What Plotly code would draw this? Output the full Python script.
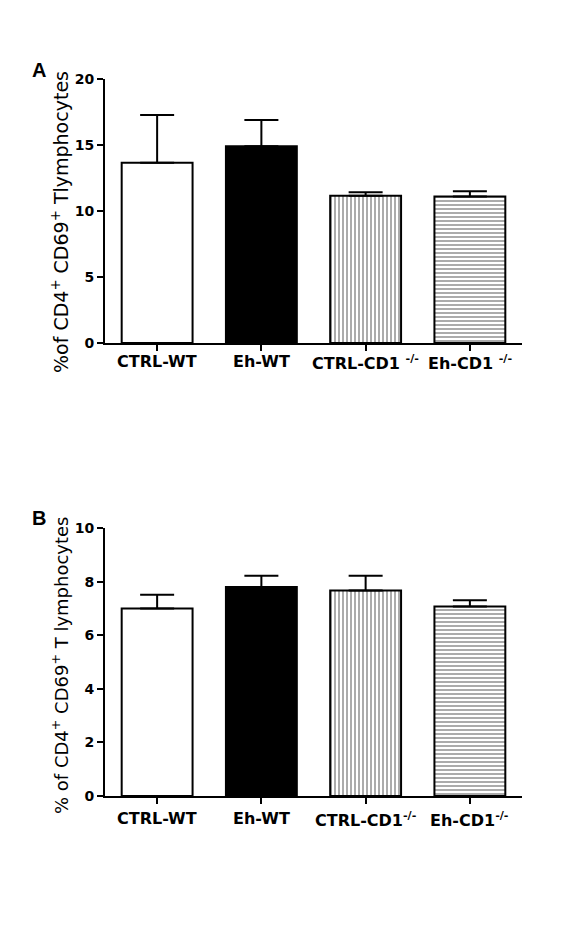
import plotly.graph_objects as go

# groups on the x axis
groups = ["CTRL-WT", "Eh-WT", "CTRL-CD1", "Eh-CD1"]
labels_a = ["CTRL-WT", "Eh-WT", "CTRL-CD1 <sup>-/-</sup>", "Eh-CD1 <sup>-/-</sup>"]
labels_b = ["CTRL-WT", "Eh-WT", "CTRL-CD1<sup>-/-</sup>", "Eh-CD1<sup>-/-</sup>"]

# panel A: % CD4+ CD69+ T lymphocytes (mean and upper SEM)
mean_a = [13.65, 14.9, 11.15, 11.1]
sem_a = [3.62, 2.0, 0.27, 0.4]

# panel B
mean_b = [7.0, 7.8, 7.67, 7.07]
sem_b = [0.51, 0.42, 0.55, 0.23]

ticks_a = [0, 5, 10, 15, 20]
ticks_b = [0, 2, 4, 6, 8, 10]

# look of each bar
fill_colors = ["white", "black", "white", "white"]
patterns = ["", "", "|", "-"]

W, H = 580, 927
OFF = 8  # page body margin shifts the figure by this much

TICK_FONT = dict(family="DejaVu Sans", size=14, color="black", weight="bold")
CAT_FONT = dict(family="DejaVu Sans", size=16, color="black", weight="bold")


def px_x(p):
    return (p - OFF) / W


def px_y(p):
    return 1 - (p - OFF) / H


def bar_trace(means, sems, xaxis, yaxis):
    return go.Bar(
        x=groups,
        y=means,
        width=0.68,
        xaxis=xaxis,
        yaxis=yaxis,
        marker=dict(
            color=fill_colors,
            line=dict(color="black", width=2),
            pattern=dict(shape=patterns, fgcolor="black", size=4, solidity=0.45),
        ),
        error_y=dict(
            type="data",
            symmetric=False,
            array=sems,
            arrayminus=[0] * len(sems),
            color="black",
            thickness=2,
            width=17,
        ),
        showlegend=False,
        hoverinfo="skip",
    )


fig = go.Figure()
fig.add_trace(bar_trace(mean_a, sem_a, "x", "y"))
fig.add_trace(bar_trace(mean_b, sem_b, "x2", "y2"))

common_x = dict(
    domain=[px_x(105), px_x(522)],
    range=[-0.5, 3.5],
    automargin=False,
    showline=True, linecolor="black", linewidth=2,
    ticks="outside", ticklen=6, tickwidth=2, tickcolor="black",
    showgrid=False, zeroline=False,
    showticklabels=False,
    tickmode="array", tickvals=groups,
)
common_y = dict(
    automargin=False,
    showline=True, linecolor="black", linewidth=2,
    ticks="outside", ticklen=6, tickwidth=2, tickcolor="black",
    showgrid=False, zeroline=False,
    tickfont=TICK_FONT,
    tickmode="array",
)

fig.update_layout(
    width=W,
    height=H,
    margin=dict(l=0, r=0, t=0, b=0),
    paper_bgcolor="white",
    plot_bgcolor="white",
    xaxis=dict(common_x, anchor="y"),
    yaxis=dict(common_y, anchor="x", domain=[px_y(343), px_y(79)],
               range=[0, 20], tickvals=ticks_a),
    xaxis2=dict(common_x, anchor="y2"),
    yaxis2=dict(common_y, anchor="x2", domain=[px_y(796), px_y(528)],
                range=[0, 10], tickvals=ticks_b),
)

# category labels under each panel
for g, lab in zip(groups, labels_a):
    fig.add_annotation(text=lab, x=g, y=0, xref="x", yref="y", yanchor="top",
                       yshift=-7, showarrow=False, font=CAT_FONT)
for g, lab in zip(groups, labels_b):
    fig.add_annotation(text=lab, x=g, y=0, xref="x2", yref="y2", yanchor="top",
                       yshift=-11, showarrow=False, font=CAT_FONT)

fig.add_annotation(text="%of CD4<sup>+</sup> CD69<sup>+</sup> Tlymphocytes",
                   x=px_x(60), y=px_y(222), xref="paper", yref="paper",
                   textangle=-90, showarrow=False,
                   font=dict(family="DejaVu Sans", size=19, color="black"),
                   xanchor="center", yanchor="middle")
fig.add_annotation(text="% of CD4<sup>+</sup> CD69<sup>+</sup> T lymphocytes",
                   x=px_x(60), y=px_y(665), xref="paper", yref="paper",
                   textangle=-90, showarrow=False,
                   font=dict(family="DejaVu Sans", size=18, color="black"),
                   xanchor="center", yanchor="middle")

letter_font = dict(family="Liberation Sans", size=20, color="black", weight="bold")
fig.add_annotation(text="A", x=px_x(39), y=px_y(70), xref="paper", yref="paper",
                   showarrow=False, font=letter_font, xanchor="center", yanchor="middle")
fig.add_annotation(text="B", x=px_x(39), y=px_y(518), xref="paper", yref="paper",
                   showarrow=False, font=letter_font, xanchor="center", yanchor="middle")

fig.write_html("out.html")
